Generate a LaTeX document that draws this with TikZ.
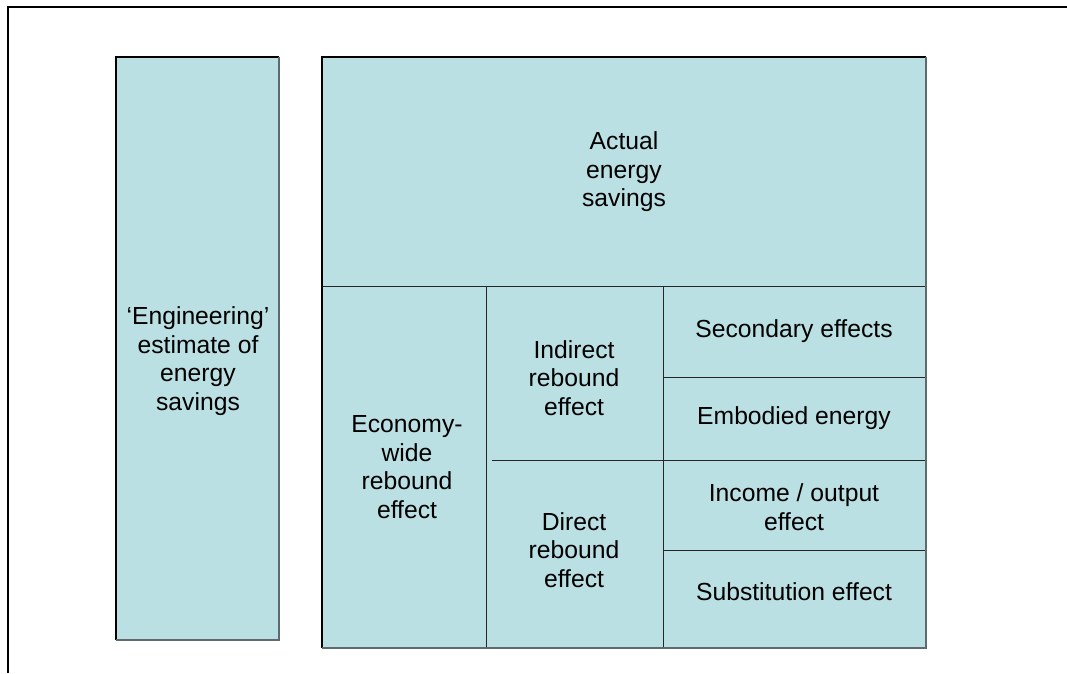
\documentclass[tikz,border=0pt]{standalone}
\usepackage{fontspec}
\setmainfont{Liberation Sans}
\definecolor{cellfill}{HTML}{BBE0E3}
\definecolor{shade}{HTML}{5E6A6B}
\begin{document}
\begin{tikzpicture}[x=1pt,y=-1pt,
  cellbox/.style={fill=cellfill},
  divider/.style={draw=black!85, line width=1pt},
  lit/.style={draw=black, line width=1.1pt},
  dim/.style={draw=shade, line width=1.3pt},
  lbl/.style={align=center, inner sep=0pt, font=\fontsize{24.7}{28.5}\selectfont}]
\useasboundingbox (0,0) rectangle (1067,673);
% page frame
\draw[line width=2pt] (8,673) -- (8,7) -- (1067,7);

% left column: engineering estimate
\fill[cellbox] (116,57) rectangle (279,640);
\draw[lit] (116,640) -- (116,57) -- (279,57);
\draw[dim] (279,57) -- (279,640) -- (116,640);

% right block: decomposition of savings
\fill[cellbox] (322,57) rectangle (926,648);
\draw[divider] (322,286) -- (926,286);
\draw[divider] (486,286) -- (486,648);
\draw[divider] (663,286) -- (663,648);
\draw[divider] (492,460) -- (926,460);
\draw[divider] (663,377) -- (926,377);
\draw[divider] (663,550) -- (926,550);
\draw[lit] (322,648) -- (322,57) -- (926,57);
\draw[dim] (926,57) -- (926,648) -- (322,648);

% labels
\node[lbl] (eng) at (198,361) {`Engineering'\\estimate of\\energy\\savings};
\node[lbl] (actual) at (624,172) {Actual\\energy\\savings};
\node[lbl] (econ) at (407,467) {Economy-\\wide\\rebound\\effect};
\node[lbl] (indirect) at (574,378) {Indirect\\rebound\\effect};
\node[lbl] (direct) at (574,550) {Direct\\rebound\\effect};
\node[lbl] (secondary) at (794,331) {Secondary effects};
\node[lbl] (embodied) at (794,418) {Embodied energy};
\node[lbl] (income) at (794,507) {Income / output\\effect};
\node[lbl] (subst) at (794,592) {Substitution effect};
\end{tikzpicture}
\end{document}
